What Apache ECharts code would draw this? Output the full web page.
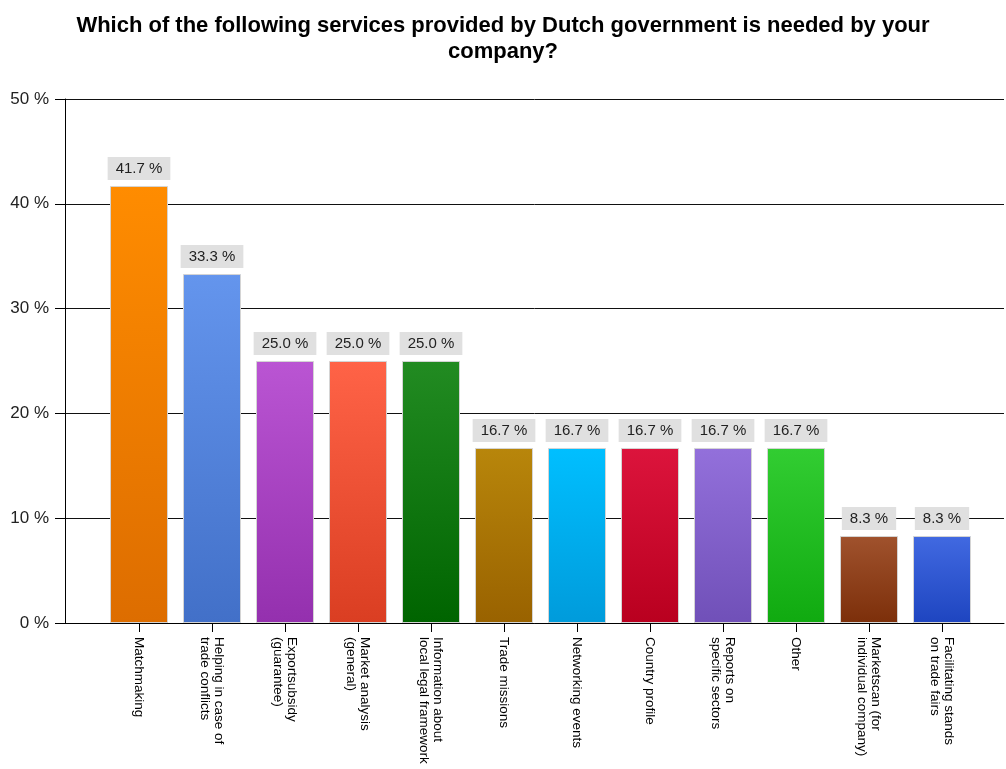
<!DOCTYPE html>
<html>
<head>
<meta charset="utf-8">
<script src="https://cdn.jsdelivr.net/npm/echarts@6/dist/echarts.min.js"></script>
<style>
  html, body { margin: 0; padding: 0; background: #fff; }
  #chart { width: 1006px; height: 769px; }
</style>
</head>
<body>
<div id="chart"></div>
<script>
// Survey answers: share of companies needing each service
const categories = [
  'Matchmaking',
  'Helping in case of\ntrade conflicts',
  'Exportsubsidy\n(guarantee)',
  'Market analysis\n(general)',
  'Information about\nlocal legal framework',
  'Trade missions',
  'Networking events',
  'Country profile',
  'Reports on\nspecific sectors',
  'Other',
  'Marketscan (for\nindividual company)',
  'Facilitating stands\non trade fairs'
];
const shares = [41.7, 33.3, 25.0, 25.0, 25.0, 16.7, 16.7, 16.7, 16.7, 16.7, 8.3, 8.3];
const yTicks = [0, 10, 20, 30, 40, 50];

// Per-bar gradient colours (top, bottom)
const barTop = ['#ff8c00', '#6495ed', '#ba55d3', '#ff6347', '#228b22', '#b8860b',
                '#00bfff', '#dc143c', '#9370db', '#32cd32', '#a0522d', '#4169e1'];
const barBottom = ['#dd6d00', '#4270c8', '#9430ae', '#da3e22', '#006400', '#996200',
                   '#009bdb', '#b9001f', '#7050b8', '#10aa10', '#7c2f0a', '#1e45c0'];

const font = '"Liberation Sans", Arial, sans-serif';
const chart = echarts.init(document.getElementById('chart'), null, { renderer: 'canvas' });

const gridTop = 99, gridBottom = 146;

chart.setOption({
  animation: false,
  backgroundColor: '#ffffff',
  textStyle: { fontFamily: font },
  title: {
    text: 'Which of the following services provided by Dutch government is needed by your\ncompany?',
    left: 'center',
    top: 8,
    textStyle: { fontFamily: font, fontSize: 22, fontWeight: 'bold', color: '#000', lineHeight: 26 }
  },
  grid: [
    { left: 65, right: 2, top: gridTop, bottom: gridBottom },
    { left: 102.5, right: 27.5, top: gridTop, bottom: gridBottom }
  ],
  xAxis: [
    {
      gridIndex: 0, type: 'value', min: 0, max: 1,
      axisLine: { show: true, onZero: false, lineStyle: { color: '#000', width: 1 } },
      axisTick: { show: false }, axisLabel: { show: false }, splitLine: { show: false }
    },
    {
      gridIndex: 1, type: 'category', data: categories,
      axisLine: { show: false },
      axisTick: { show: true, alignWithLabel: true, length: 9, lineStyle: { color: '#000' } },
      axisLabel: {
        interval: 0, rotate: -90, margin: 14,
        fontFamily: font, fontSize: 13.5, lineHeight: 14, color: '#000'
      }
    }
  ],
  yAxis: [
    {
      gridIndex: 0, type: 'value', min: yTicks[0], max: yTicks[yTicks.length - 1], interval: 10,
      axisLine: { show: true, lineStyle: { color: '#000', width: 1 } },
      axisTick: { show: true, length: 10, lineStyle: { color: '#000' } },
      axisLabel: { formatter: '{value} %', fontFamily: font, fontSize: 17, color: '#222', margin: 16 },
      splitLine: { show: true, lineStyle: { color: '#111', width: 1 } }
    },
    {
      gridIndex: 1, type: 'value', min: yTicks[0], max: yTicks[yTicks.length - 1],
      show: false, splitLine: { show: false }
    }
  ],
  series: [{
    type: 'bar',
    xAxisIndex: 1, yAxisIndex: 1,
    barWidth: 58,
    data: shares.map((v, i) => ({
      value: v,
      itemStyle: {
        color: new echarts.graphic.LinearGradient(0, 0, 0, 1, [
          { offset: 0, color: barTop[i] },
          { offset: 1, color: barBottom[i] }
        ]),
        borderColor: '#d4d4d4',
        borderWidth: 1
      }
    })),
    label: {
      show: true,
      position: 'top',
      distance: 6,
      formatter: p => p.value.toFixed(1) + ' %',
      backgroundColor: '#e0e0e0',
      padding: [4, 8],
      fontFamily: font,
      fontSize: 15,
      color: '#222'
    }
  }]
});
</script>
</body>
</html>
